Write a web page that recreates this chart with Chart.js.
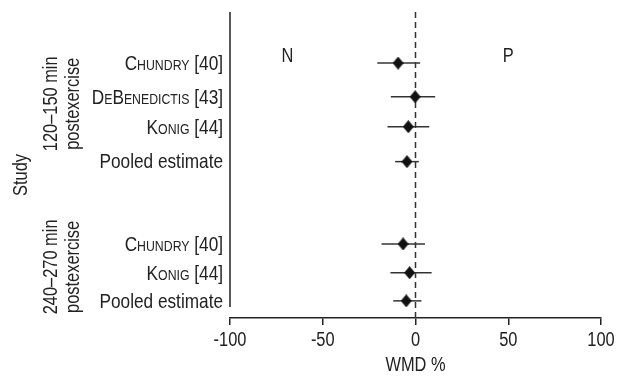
<!DOCTYPE html>
<html>
<head>
<meta charset="utf-8">
<script src="https://cdn.jsdelivr.net/npm/chart.js@4.4.1/dist/chart.umd.min.js"></script>
<style>
  body { margin: 0; background: #fff; }
  #chart { display: block; }
</style>
</head>
<body>
<canvas id="chart" width="627" height="376"></canvas>
<script>
const FONT = "'Liberation Sans', Arial, sans-serif";
const INK = '#222';
const NARROW = 0.82; // the original type is a condensed sans

// rows, top to bottom
const studies = ['Chundry [40]', 'DeBenedictis [43]', 'Konig [44]', 'Pooled estimate', 'Chundry [40]', 'Konig [44]', 'Pooled estimate'];
const smallCaps = [true, true, true, false, true, true, false];
const rowPos = [1.67, 2.77, 3.75, 4.89, 7.58, 8.52, 9.44];
const wmd = [-9.4, -0.2, -3.9, -4.6, -6.7, -3.2, -5.0];
const ciLow = [-20.6, -13.3, -15.1, -11.0, -18.3, -13.5, -12.0];
const ciHigh = [2.5, 10.6, 7.4, 1.8, 5.1, 8.7, 3.2];

const groupLabels = [['120–150 min', 'postexercise'], ['240–270 min', 'postexercise']];
const groupPos = [3.0, 8.33];
const xTicks = [-100, -50, 0, 50, 100];
const sideLabels = ['N', 'P'];
const sidePos = [-69, 50];
const sideRow = 1.45;
const yAxisEnd = 9.64;

// tall diamond marker
const diamond = document.createElement('canvas');
diamond.width = 11;
diamond.height = 13;
const dctx = diamond.getContext('2d');
dctx.fillStyle = '#111';
dctx.beginPath();
dctx.moveTo(5.5, 0);
dctx.lineTo(11, 6.5);
dctx.lineTo(5.5, 13);
dctx.lineTo(0, 6.5);
dctx.closePath();
dctx.fill();

const datasets = [];
datasets.push({
    data: wmd.map((v, i) => ({ x: v, y: rowPos[i] })),
    pointStyle: diamond,
    pointRadius: 6,
    showLine: false,
    order: 0
});
for (let i = 0; i < studies.length; i++) {
    datasets.push({
        data: [{ x: ciLow[i], y: rowPos[i] }, { x: ciHigh[i], y: rowPos[i] }],
        showLine: true,
        borderColor: '#333',
        borderWidth: 1.5,
        pointRadius: 0,
        order: 1
    });
}
// line of no effect
datasets.push({
    data: [{ x: 0, y: 0 }, { x: 0, y: 10 }],
    showLine: true,
    borderColor: '#333',
    borderWidth: 1.5,
    borderDash: [6, 4],
    pointRadius: 0,
    order: 2
});

function narrowText(ctx, text, x, y, align, rotate) {
    ctx.save();
    ctx.translate(x, y);
    if (rotate) ctx.rotate(-Math.PI / 2);
    ctx.scale(NARROW, 1);
    ctx.textAlign = align;
    ctx.fillText(text, 0, 0);
    ctx.restore();
}

const textPlugin = {
    id: 'forestText',
    afterDraw(chart) {
        const ctx = chart.ctx;
        const xs = chart.scales.x;
        const ys = chart.scales.y;
        const area = chart.chartArea;
        ctx.save();

        // y axis line stops short of the x axis
        ctx.strokeStyle = INK;
        ctx.lineWidth = 1.5;
        ctx.beginPath();
        ctx.moveTo(area.left, area.top);
        ctx.lineTo(area.left, ys.getPixelForValue(yAxisEnd));
        ctx.stroke();

        ctx.fillStyle = INK;
        ctx.textBaseline = 'middle';

        // study names
        for (let i = 0; i < studies.length; i++) {
            ctx.font = (smallCaps[i] ? 'small-caps ' : '') + '21px ' + FONT;
            narrowText(ctx, studies[i], area.left - 7, ys.getPixelForValue(rowPos[i]) + 1, 'right');
        }

        ctx.font = '20px ' + FONT;
        // N / P
        for (let i = 0; i < sideLabels.length; i++) {
            narrowText(ctx, sideLabels[i], xs.getPixelForValue(sidePos[i]), ys.getPixelForValue(sideRow), 'center');
        }

        // x tick labels and title
        xs.ticks.forEach(t => {
            narrowText(ctx, String(t.value), xs.getPixelForValue(t.value), area.bottom + 22, 'center');
        });
        narrowText(ctx, 'WMD %', (area.left + area.right) / 2, area.bottom + 47, 'center');

        // rotated group labels and axis title
        for (let g = 0; g < groupLabels.length; g++) {
            const yc = ys.getPixelForValue(groupPos[g]);
            narrowText(ctx, groupLabels[g][0], 51, yc, 'center', true);
            narrowText(ctx, groupLabels[g][1], 73, yc, 'center', true);
        }
        narrowText(ctx, 'Study', 21, 175, 'center', true);

        ctx.restore();
    }
};

new Chart(document.getElementById('chart'), {
    type: 'scatter',
    data: { datasets: datasets },
    plugins: [textPlugin],
    options: {
        responsive: false,
        animation: false,
        layout: { padding: { top: 12, right: 26, bottom: 0, left: 0 } },
        plugins: { legend: { display: false }, tooltip: { enabled: false } },
        scales: {
            x: {
                type: 'linear',
                min: -100,
                max: 100,
                afterBuildTicks: (scale) => { scale.ticks = xTicks.map(v => ({ value: v })); },
                grid: { drawOnChartArea: false, tickLength: 7, color: INK, lineWidth: 1.5 },
                border: { display: true, color: INK, width: 1.5 },
                ticks: { display: false },
                afterFit: (scale) => { scale.height = 58; }
            },
            y: {
                type: 'linear',
                reverse: true,
                min: 0,
                max: 10,
                grid: { display: false },
                border: { display: false },
                ticks: { display: false },
                afterFit: (scale) => { scale.width = 230; }
            }
        }
    }
});
</script>
</body>
</html>
